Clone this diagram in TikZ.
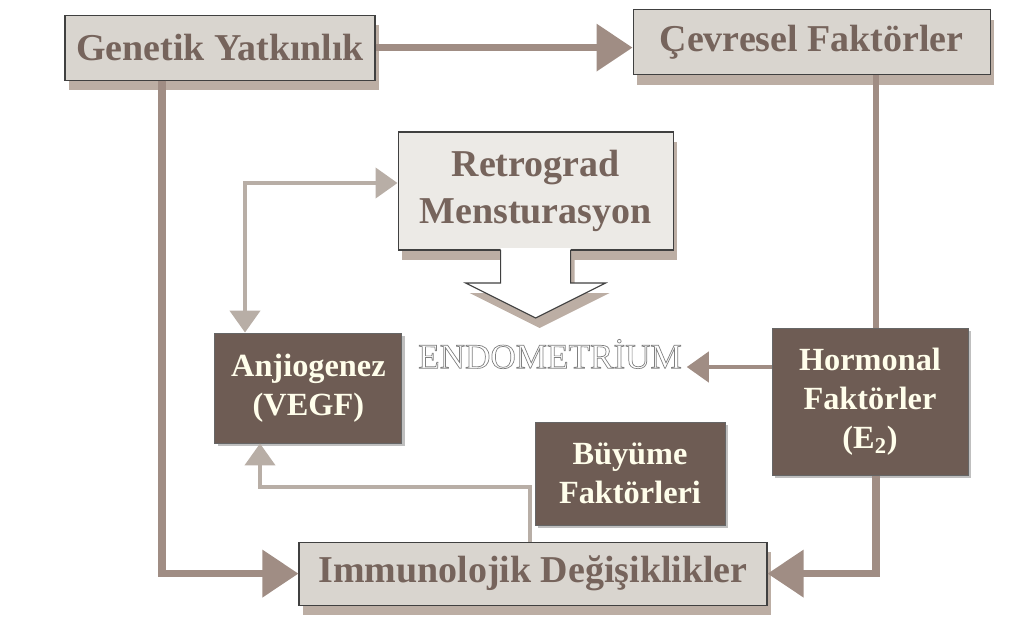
\documentclass[tikz,border=0pt]{standalone}
\usepackage{fontspec}
\setmainfont{Liberation Serif}
\usetikzlibrary{arrows.meta,shadows}
\definecolor{boxgray}{HTML}{D9D5CF}
\definecolor{boxlight}{HTML}{ECEAE6}
\definecolor{boxdark}{HTML}{6E5C54}
\definecolor{txtbrown}{HTML}{76645C}
\definecolor{shadowtan}{HTML}{BCAEA4}
\definecolor{arrowtan}{HTML}{A08D84}
\definecolor{arrowgray}{HTML}{B8AEA6}
\tikzset{
    LB/.style ={rectangle, draw=black!75, line width=0.8pt, fill=boxgray, text=txtbrown, align=center,
        font=\fontsize{27}{33}\selectfont\bfseries,
        drop shadow={shadow xshift=3pt, shadow yshift=-7pt, fill=shadowtan, opacity=1}},
    DB/.style ={rectangle, draw=black!60, line width=0.6pt, fill=boxdark, text=white!92!yellow, align=center,
        font=\fontsize{23}{28}\selectfont\bfseries,
        drop shadow={shadow xshift=2pt, shadow yshift=-2pt, fill=black!25, opacity=1}},
    AR1/.style ={draw=arrowtan, line width=5pt, -{Triangle[length=0.9cm,width=1.15cm]}},
    AR2/.style ={draw=arrowgray, line width=3pt, -{Triangle[length=0.55cm,width=0.75cm]}},
    DA/.style ={draw=arrowgray, line width=3pt, {Triangle[length=0.55cm,width=0.75cm]}-{Triangle[length=0.55cm,width=0.75cm]}},
    LN/.style ={draw=arrowtan, line width=4.5pt}}

\begin{document}
\begin{tikzpicture}
    \useasboundingbox (0,0) rectangle (25.3,-15.925);
        \node[LB, minimum width=7.75cm, minimum height=1.625cm] (1) at(5.5,-1.19){Genetik Yatkınlık};
        \node[LB, minimum width=8.925cm, minimum height=1.625cm] (2) at(20.29,-1.06){Çevresel Faktörler};
        % retrograd box with its block arrow
        \fill[shadowtan] (12.615,-6.3) -- (12.615,-7.325) -- (11.74,-7.325) -- (13.49,-8.2) -- (15.24,-7.325) -- (14.365,-7.325) -- (14.365,-6.3) -- cycle;
        \node[LB, fill=boxlight, minimum width=6.875cm, minimum height=2.95cm] (3) at(13.39,-4.775){Retrograd\\Mensturasyon};
        \fill[white] (12.515,-6.2) -- (12.515,-7.075) -- (11.64,-7.075) -- (13.39,-7.95) -- (15.14,-7.075) -- (14.265,-7.075) -- (14.265,-6.2) -- cycle;
        \draw[black!75, line width=0.8pt] (12.515,-6.25) -- (12.515,-7.075) -- (11.64,-7.075) -- (13.39,-7.95) -- (15.14,-7.075) -- (14.265,-7.075) -- (14.265,-6.25);
        \node[DB, minimum width=4.675cm, minimum height=2.75cm] (4) at(7.71,-9.7){Anjiogenez\\(VEGF)};
        \node[text=black!50, font=\fontsize{25}{30}\selectfont] (5) at(13.75,-8.85){\special{pdf:literal direct 1 Tr 0.5 w}ENDOMETRİUM\special{pdf:literal direct 0 Tr}};
        \node[DB, minimum width=4.9cm, minimum height=3.675cm] (6) at(21.75,-10.04){Hormonal\\Faktörler\\(E\textsubscript{2})};
        \node[DB, minimum width=4.75cm, minimum height=2.575cm] (7) at(15.75,-11.84){Büyüme\\Faktörleri};
        \node[LB, minimum width=11.7cm, minimum height=1.575cm] (8) at(13.325,-14.34){Immunolojik Değişiklikler};
        \coordinate (GL) at (4.05,0);
        \coordinate (HL) at (21.9,0);
        \coordinate (AL) at (6.125,-4.575);
        \coordinate (BL) at (13.25,-12.175);
        \coordinate (BR) at (6.5,-12.175);
        \coordinate (EY) at (0,-9.175);
        \draw[AR1] (1.east) -- (1.east -| 2.west);
        \draw[AR1] (1.south -| GL) |- (8.west);
        \draw[LN] (2.south -| HL) -- (6.north -| HL);
        \draw[AR1] (6.south -| HL) |- (8.east);
        \draw[DA] (4.north -| AL) |- (3.west |- AL);
        \draw[AR2] (8.north -| BL) -- (BL) -- (BR) -- (4.south -| BR);
        \draw[AR2, draw=arrowtan] (6.west |- EY) -- (5.east |- EY);
    \end{tikzpicture}
\end{document}
